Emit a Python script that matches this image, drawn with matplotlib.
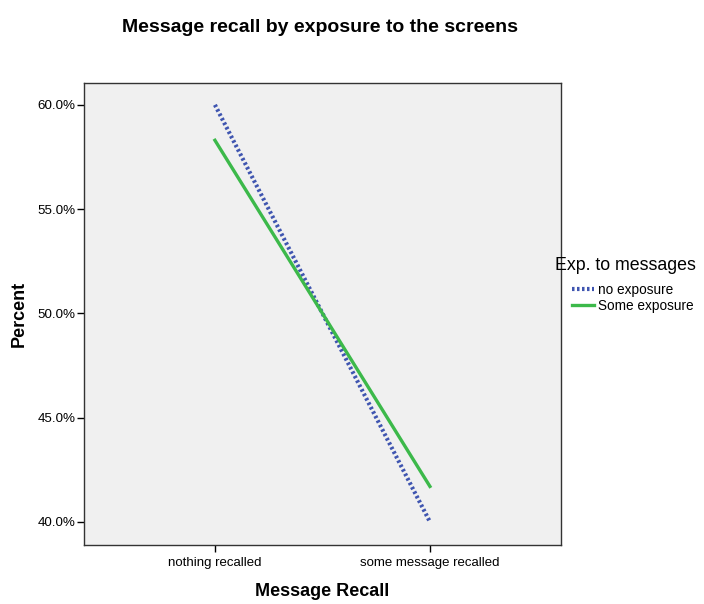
import matplotlib.pyplot as plt
from matplotlib.ticker import FuncFormatter

plt.rcParams['font.family'] = ['Liberation Sans', 'DejaVu Sans']

# Data
categories = ['nothing recalled', 'some message recalled']
no_exposure = [60.0, 40.0]
some_exposure = [58.3, 41.7]
series_names = ['no exposure', 'Some exposure']
legend_title = 'Exp. to messages'

fig = plt.figure(figsize=(7.04, 6.04), dpi=100)
ax = fig.add_axes([0.119, 0.098, 0.678, 0.765])
ax.set_facecolor('#f0f0f0')

x = range(len(categories))
ax.plot(x, no_exposure, color='#3f55b0', linewidth=3.0, linestyle=(0, (0.6, 0.6)),
        label=series_names[0])
ax.plot(x, some_exposure, color='#3cb94a', linewidth=2.4, label=series_names[1])

ax.set_xlim(-0.61, 1.61)
ax.set_ylim(38.9, 61.06)
ax.set_xticks(list(x))
ax.set_xticklabels(categories, fontsize=9.5)
ax.set_yticks([40, 45, 50, 55, 60])
ax.yaxis.set_major_formatter(FuncFormatter(lambda v, p: '%.1f%%' % v))
ax.tick_params(axis='y', labelsize=9.6, length=5, width=1, pad=1)
ax.tick_params(axis='x', length=5, width=1, pad=4)
for s in ax.spines.values():
    s.set_linewidth(1.0)
    s.set_color('#333333')

ax.set_xlabel('Message Recall', fontsize=13, fontweight='bold', labelpad=10)
ax.set_ylabel('Percent', fontsize=13, fontweight='bold', labelpad=7)
fig.text(0.455, 1 - 27 / 604, 'Message recall by exposure to the screens',
         fontsize=14, fontweight='bold', ha='center', va='center')

# legend title sits left of the handles, as in the original
fig.text(555 / 704, 1 - 265 / 604, legend_title, fontsize=12.8, va='center', ha='left')
leg = ax.legend(loc='upper left', frameon=False,
                fontsize=9.8, handlelength=1.65, handletextpad=0.3,
                labelspacing=0.15, borderaxespad=0, borderpad=0.2)
leg.set_bbox_to_anchor((572 / 704 - 0.004, 1 - 280 / 604), transform=fig.transFigure)

fig.savefig('out.png', dpi=100)
